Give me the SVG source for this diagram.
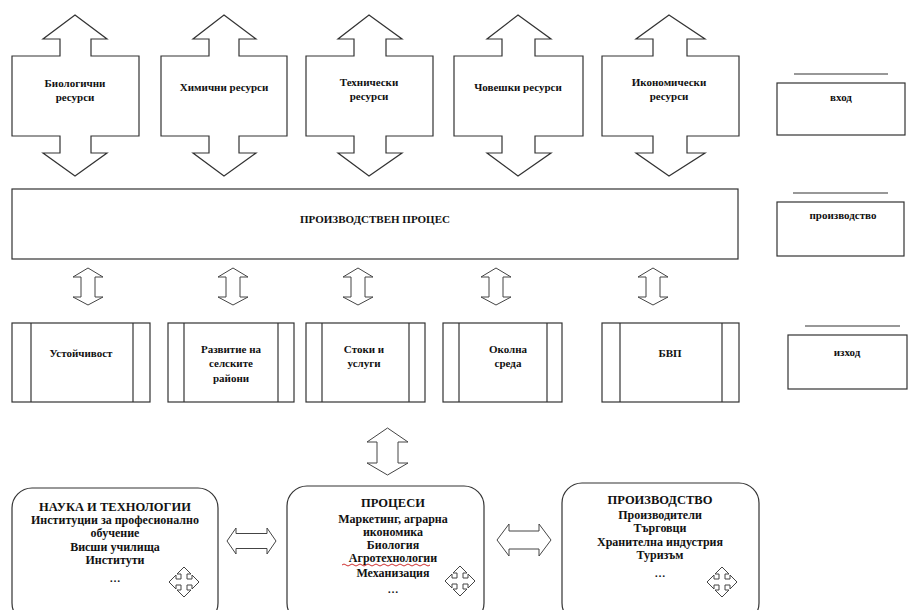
<svg xmlns="http://www.w3.org/2000/svg" xmlns:xlink="http://www.w3.org/1999/xlink" width="909" height="610" viewBox="0 0 909 610">
<style>
.s{fill:#fff;stroke:#333;stroke-width:1.2}
.t{font-family:"Liberation Serif","Times New Roman",serif;font-weight:bold;font-size:11px;fill:#111;text-anchor:middle}
.b{font-size:12px}
.h{font-size:12.5px}
.ln{stroke:#333;stroke-width:1.2}
.a{fill:#fff;stroke:#444;stroke-width:1}
</style>
<defs>
<path id="va" d="M0,0 L15,9 L7,9 L7,29 L15,29 L0,37 L-15,29 L-7,29 L-7,9 L-15,9 Z"/>
<path id="cross" d="M0,-15 L7,-8 L3,-8 L3,-3 L8,-3 L8,-7 L15,0 L8,7 L8,3 L3,3 L3,8 L7,8 L0,15 L-7,8 L-3,8 L-3,3 L-8,3 L-8,7 L-15,0 L-8,-7 L-8,-3 L-3,-3 L-3,-8 L-7,-8 Z"/>
</defs>
<rect width="909" height="610" fill="#fff"/>

<g id="bio">
<path class="s" d="M75,15 L107,39 L91,39 L91,56 L139,56 L139,136 L91,136 L91,153 L107,153 L75,176 L43,153 L60,153 L60,136 L12,136 L12,56 L60,56 L60,39 L43,39 Z"/>
<text class="t" x="75" y="87">Биологични</text><text class="t" x="75" y="101">ресурси</text>
</g>
<g id="him">
<path class="s" d="M224,15 L256,39 L239,39 L239,56 L287,56 L287,136 L239,136 L239,153 L256,153 L224,176 L193,153 L209,153 L209,136 L161,136 L161,56 L209,56 L209,39 L193,39 Z"/>
<text class="t" x="224" y="91">Химични  ресурси</text>
</g>
<g id="teh">
<path class="s" d="M369,15 L402,39 L386,39 L386,56 L433,56 L433,136 L386,136 L386,153 L402,153 L369,176 L338,153 L354,153 L354,136 L306,136 L306,56 L354,56 L354,39 L338,39 Z"/>
<text class="t" x="369" y="86">Технически</text><text class="t" x="369" y="100">ресурси</text>
</g>
<g id="chov">
<path class="s" d="M518,15 L551,39 L535,39 L535,56 L583,56 L583,136 L535,136 L535,153 L551,153 L518,176 L487,153 L502,153 L502,136 L454,136 L454,56 L502,56 L502,39 L487,39 Z"/>
<text class="t" x="518" y="91">Човешки ресурси</text>
</g>
<g id="ikon">
<path class="s" d="M669,15 L705,39 L687,39 L687,56 L739,56 L739,136 L687,136 L687,153 L705,153 L669,176 L636,153 L653,153 L653,136 L602,136 L602,56 L653,56 L653,39 L636,39 Z"/>
<text class="t" x="669" y="86">Икономически</text><text class="t" x="669" y="100">ресурси</text>
</g>

<g id="vhod">
<line class="ln" x1="794" y1="74" x2="888" y2="74"/>
<rect class="s" x="777" y="83" width="128" height="52"/>
<text class="t" x="841" y="101">вход</text>
</g>

<g id="proces">
<rect class="s" x="12" y="189" width="726" height="70"/>
<text class="t" x="375" y="223">ПРОИЗВОДСТВЕН  ПРОЦЕС</text>
</g>

<g id="proizv">
<line class="ln" x1="793" y1="193" x2="888" y2="193"/>
<rect class="s" x="777" y="202" width="127" height="54"/>
<text class="t" x="843" y="219">производство</text>
</g>

<g id="izhod">
<line class="ln" x1="805" y1="326" x2="900" y2="326"/>
<rect class="s" x="788" y="335" width="119" height="54"/>
<text class="t" x="847" y="356">изход</text>
</g>

<g id="ustoi">
<rect class="s" x="12" y="323" width="138" height="79"/>
<line class="ln" x1="31" y1="323" x2="31" y2="402"/><line class="ln" x1="133" y1="323" x2="133" y2="402"/>
<text class="t" x="81" y="357">Устойчивост</text>
</g>
<g id="razv">
<rect class="s" x="168" y="323" width="126" height="79"/>
<line class="ln" x1="184" y1="323" x2="184" y2="402"/><line class="ln" x1="278" y1="323" x2="278" y2="402"/>
<text class="t" x="231" y="353">Развитие на</text><text class="t" x="231" y="367">селските</text><text class="t" x="231" y="382">райони</text>
</g>
<g id="stoki">
<rect class="s" x="306" y="323" width="119" height="79"/>
<line class="ln" x1="322" y1="323" x2="322" y2="402"/><line class="ln" x1="409" y1="323" x2="409" y2="402"/>
<text class="t" x="364" y="353">Стоки и</text><text class="t" x="364" y="367">услуги</text>
</g>
<g id="okolna">
<rect class="s" x="443" y="323" width="119" height="79"/>
<line class="ln" x1="459" y1="323" x2="459" y2="402"/><line class="ln" x1="547" y1="323" x2="547" y2="402"/>
<text class="t" x="508" y="353">Околна</text><text class="t" x="508" y="367">среда</text>
</g>
<g id="bvp">
<rect class="s" x="602" y="323" width="137" height="79"/>
<line class="ln" x1="620" y1="323" x2="620" y2="402"/><line class="ln" x1="722" y1="323" x2="722" y2="402"/>
<text class="t" x="670" y="357">БВП</text>
</g>

<g id="nauka">
<rect class="s" x="12" y="488" width="206" height="135" rx="20"/>
<text class="t h" x="115" y="511">НАУКА И ТЕХНОЛОГИИ</text>
<text class="t b" x="115" y="524">Институции за професионално</text>
<text class="t b" x="115" y="537">обучение</text>
<text class="t b" x="115" y="551">Висши училища</text>
<text class="t b" x="115" y="564">Институти</text>
<text class="t" x="115" y="582">…</text>
<use href="#cross" x="184" y="582" class="a"/>
</g>
<g id="procesi">
<rect class="s" x="287" y="486" width="197" height="137" rx="20"/>
<text class="t h" x="393" y="507">ПРОЦЕСИ</text>
<text class="t b" x="393" y="523">Маркетинг, аграрна</text>
<text class="t b" x="393" y="536">икономика</text>
<text class="t b" x="393" y="549">Биология</text>
<text class="t b" x="393" y="562">Агротехнологии</text>
<path d="M342,565 q2,-2 4,0 t4,0 t4,0 t4,0 t4,0 t4,0 t4,0 t4,0 t4,0 t4,0 t4,0 t4,0 t4,0 t4,0 t4,0 t4,0 t4,0 t4,0 t4,0 t4,0 t4,0 t4,0" fill="none" stroke="#d03030" stroke-width="1"/>
<text class="t b" x="393" y="577">Механизация</text>
<text class="t" x="393" y="593">…</text>
<use href="#cross" x="460" y="581" class="a"/>
</g>
<g id="proizvodstvo">
<rect class="s" x="562" y="483" width="197" height="140" rx="20"/>
<text class="t h" x="660" y="504">ПРОИЗВОДСТВО</text>
<text class="t b" x="660" y="519">Производители</text>
<text class="t b" x="660" y="532">Търговци</text>
<text class="t b" x="660" y="546">Хранителна  индустрия</text>
<text class="t b" x="660" y="559">Туризъм</text>
<text class="t" x="660" y="577">…</text>
<use href="#cross" x="722" y="582" class="a"/>
</g>

<g id="connectors">
<use href="#va" x="88" y="268" class="a"/>
<use href="#va" x="233" y="268" class="a"/>
<use href="#va" x="358" y="268" class="a"/>
<use href="#va" x="496" y="268" class="a"/>
<use href="#va" x="653" y="268" class="a"/>
<path class="a" d="M387.5,428 L408,442 L398,442 L398,463 L408,463 L387.5,475 L367,463 L377,463 L377,442 L367,442 Z"/>
<path class="a" d="M227,541 L236,528 L236,533.5 L267,533.5 L267,528 L276,541 L267,554 L267,548.5 L236,548.5 L236,554 Z"/>
<path class="a" d="M497,540 L509,524 L509,531 L539,531 L539,524 L551,540 L539,556 L539,549 L509,549 L509,556 Z"/>
</g>
</svg>
